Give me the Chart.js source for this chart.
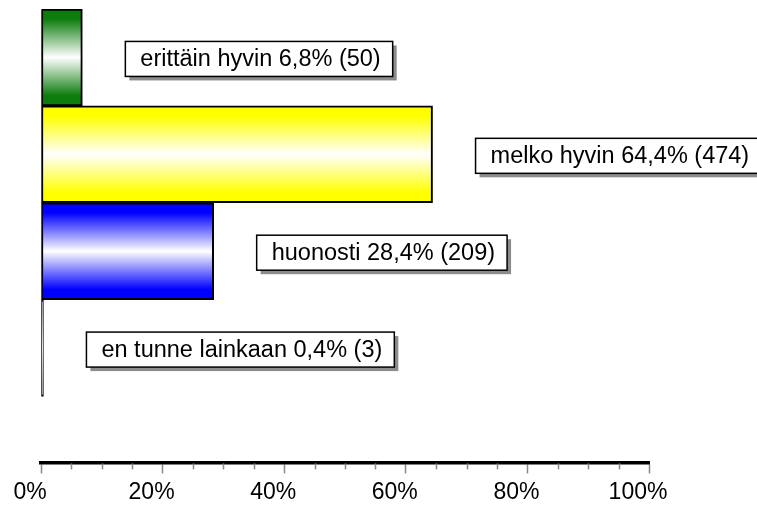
<!DOCTYPE html>
<html lang="fi">
  <head>
    <meta charset="UTF-8" />
    <title>Vastaukset</title>
    <script src="https://cdn.jsdelivr.net/npm/chart.js"></script>
    <style>
      html, body { margin: 0; padding: 0; background: #fff; }
      #wrap { width: 757px; height: 506px; }
    </style>
  </head>
  <body>
    <div id="wrap"><canvas id="myChart"></canvas></div>

    <script>
      // answers, share of respondents (%) and counts
      const categories = ['erittäin hyvin', 'melko hyvin', 'huonosti', 'en tunne lainkaan'];
      const percents = [6.8, 64.4, 28.4, 0.4];
      const counts = [50, 474, 209, 3];
      const xTicks = [0, 20, 40, 60, 80, 100];

      const edgeColors = ['#0c7c0c', '#ffff00', '#0000ff', '#8797b2'];

      function fmt(v) {
        return String(v).replace('.', ',');
      }

      function barGradient(ctx) {
        const chart = ctx.chart;
        const i = ctx.dataIndex;
        const edge = edgeColors[i];
        if (!chart.chartArea || ctx.type !== 'data') return edge;
        const cy = chart.scales.y.getPixelForValue(i);
        const g = chart.ctx.createLinearGradient(0, cy - 48, 0, cy + 48);
        g.addColorStop(0, edge);
        g.addColorStop(0.1, edge);
        g.addColorStop(0.5, '#ffffff');
        g.addColorStop(0.9, edge);
        g.addColorStop(1, edge);
        return g;
      }

      // white boxes with shadow next to each bar
      const boxLabels = {
        id: 'boxLabels',
        afterDatasetsDraw(chart) {
          const c = chart.ctx;
          const meta = chart.getDatasetMeta(0);
          c.save();
          c.font = '23.5px "Liberation Sans", Arial, sans-serif';
          c.textBaseline = 'middle';
          meta.data.forEach((bar, i) => {
            const text = categories[i] + ' ' + fmt(percents[i]) + '% (' + counts[i] + ')';
            const w = c.measureText(text).width + 27;
            const h = 35;
            const left = bar.x + 43;
            const top = bar.y - 16;
            c.fillStyle = '#8c8c8c';
            c.fillRect(left + 4, top + 4, w, h);
            c.fillStyle = '#fff';
            c.fillRect(left, top, w, h);
            c.strokeStyle = '#000';
            c.lineWidth = 1.5;
            c.strokeRect(left, top, w, h);
            c.fillStyle = '#000';
            c.fillText(text, left + 15, top + h / 2 + 1);
          });
          c.restore();
        }
      };

      // short ticks every 5 %
      const minorTicks = {
        id: 'minorTicks',
        afterDraw(chart) {
          const x = chart.scales.x;
          const c = chart.ctx;
          const y0 = chart.chartArea.bottom;
          c.save();
          c.strokeStyle = '#888';
          c.lineWidth = 1.5;
          for (let v = 5; v < 100; v += 5) {
            if (v % 20 === 0) continue;
            const px = Math.round(x.getPixelForValue(v)) + 0.5;
            c.beginPath();
            c.moveTo(px, y0 + 1);
            c.lineTo(px, y0 + 7);
            c.stroke();
          }
          c.restore();
        }
      };

      const ctx = document.getElementById('myChart').getContext('2d');
      const myChart = new Chart(ctx, {
        type: 'bar',
        data: {
          datasets: [{
            data: percents.map((p, i) => ({ x: p, y: i })),
            backgroundColor: barGradient,
            borderColor: '#000',
            borderWidth: 2,
            borderSkipped: false,
            barPercentage: 1,
            categoryPercentage: 1
          }]
        },
        options: {
          indexAxis: 'y',
          responsive: true,
          maintainAspectRatio: false,
          animation: false,
          layout: { padding: { top: 9, left: 41, right: 108, bottom: -5 } },
          plugins: {
            legend: { display: false },
            tooltip: { enabled: false }
          },
          scales: {
            y: {
              type: 'linear',
              reverse: true,
              offset: false,
              min: -0.5,
              max: 4.18,
              display: false,
              afterBuildTicks: (scale) => {
                scale.ticks = categories.map((_, i) => ({ value: i }));
              }
            },
            x: {
              type: 'linear',
              min: 0,
              max: 100,
              afterBuildTicks: (scale) => {
                scale.ticks = xTicks.map(v => ({ value: v }));
              },
              border: { display: true, color: '#000', width: 3.5 },
              grid: {
                drawOnChartArea: false,
                drawTicks: true,
                tickLength: 11,
                tickColor: '#888',
                tickWidth: 1.5
              },
              ticks: {
                padding: 5,
                labelOffset: -11,
                color: '#000',
                maxRotation: 0,
                font: { family: '"Liberation Sans", Arial, sans-serif', size: 23 },
                callback: (v) => v + '%'
              }
            }
          }
        },
        plugins: [boxLabels, minorTicks]
      });
    </script>
  </body>
</html>
